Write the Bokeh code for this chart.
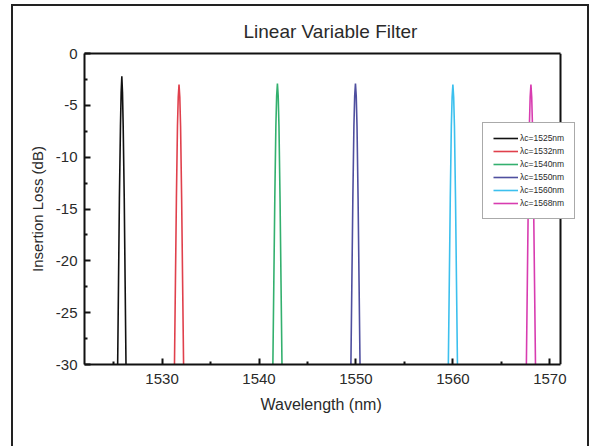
from bokeh.plotting import figure
from bokeh.models import FixedTicker, Legend, LegendItem, Range1d, InlineStyleSheet, LinearAxis, Span, Title
from bokeh.embed import file_html
from bokeh.resources import INLINE

title = "Linear Variable Filter"
x_label = "Wavelength (nm)"
y_label = "Insertion Loss (dB)"

labels = ["λc=1525nm", "λc=1532nm", "λc=1540nm", "λc=1550nm", "λc=1560nm", "λc=1568nm"]
colors = ["#111111", "#e0404c", "#33b06e", "#4f4f9f", "#3cc0ee", "#d83cb0"]

x_min, x_max = 1522, 1571.1
x_ticks = [1530, 1540, 1550, 1560, 1570]
x_minor = [1525, 1535, 1545, 1555, 1565]
y_min, y_max = -30, 0
y_ticks = [-30, -25, -20, -15, -10, -5, 0]
y_tick_labels = ["-30", "-25", "-20", "-15", "-10", "-5", "0"]
y_minor = [-27.5, -22.5, -17.5, -12.5, -7.5, -2.5]

wl_1525 = [1525.39, 1525.42, 1525.51, 1525.60, 1525.71, 1525.78, 1525.85, 1525.92, 1525.99, 1526.10, 1526.19, 1526.28, 1526.31]
il_1525 = [-33, -30, -22, -14, -7, -3.8, -2.2, -3.8, -7, -14, -22, -30, -33]

wl_1532 = [1531.25, 1531.28, 1531.38, 1531.48, 1531.59, 1531.67, 1531.75, 1531.83, 1531.91, 1532.02, 1532.12, 1532.22, 1532.25]
il_1532 = [-33, -30, -22, -14, -7, -4.2, -3.0, -4.2, -7, -14, -22, -30, -33]

wl_1540 = [1541.40, 1541.43, 1541.53, 1541.63, 1541.74, 1541.82, 1541.90, 1541.98, 1542.06, 1542.17, 1542.27, 1542.37, 1542.40]
il_1540 = [-33, -30, -22, -14, -7, -4.1, -2.9, -4.1, -7, -14, -22, -30, -33]

wl_1550 = [1549.45, 1549.48, 1549.58, 1549.68, 1549.79, 1549.87, 1549.95, 1550.03, 1550.11, 1550.22, 1550.32, 1550.42, 1550.45]
il_1550 = [-33, -30, -22, -14, -7, -4.1, -2.9, -4.1, -7, -14, -22, -30, -33]

wl_1560 = [1559.50, 1559.53, 1559.63, 1559.73, 1559.84, 1559.92, 1560.00, 1560.08, 1560.16, 1560.27, 1560.37, 1560.47, 1560.50]
il_1560 = [-33, -30, -22, -14, -7, -4.2, -3.0, -4.2, -7, -14, -22, -30, -33]

wl_1568 = [1567.55, 1567.58, 1567.68, 1567.78, 1567.89, 1567.97, 1568.05, 1568.13, 1568.21, 1568.32, 1568.42, 1568.52, 1568.55]
il_1568 = [-33, -30, -22, -14, -7, -4.2, -3.0, -4.2, -7, -14, -22, -30, -33]

series_x = [wl_1525, wl_1532, wl_1540, wl_1550, wl_1560, wl_1568]
series_y = [il_1525, il_1532, il_1540, il_1550, il_1560, il_1568]

FONT = "Liberation Sans"
TXT = "#2a2a2a"
EDGE = "#111111"

# frame extended to the right so the legend may overhang the plot box (as in the reference)
frame_left, frame_right, box_right = 84, 580, 560
x_extra = x_min + (x_max - x_min) * (frame_right - frame_left) / (box_right - frame_left)

p = figure(width=590, height=446, x_range=Range1d(x_min, x_extra), y_range=Range1d(y_min, y_max),
           output_backend="svg", toolbar_location=None,
           min_border_left=84, min_border_right=10, min_border_top=53, min_border_bottom=82)

p.title.text = title
p.title.align = "left"
p.title.offset = 159
p.title.text_font = FONT
p.title.text_font_size = "19px"
p.title.text_font_style = "normal"
p.title.text_color = TXT
p.title.standoff = 23

p.xgrid.visible = False
p.ygrid.visible = False
p.outline_line_color = None
p.background_fill_color = "white"
p.border_fill_color = "white"

for ax in (p.xaxis[0], p.yaxis[0]):
    ax.axis_line_width = 2
    ax.axis_line_color = EDGE
    ax.major_tick_in = 6
    ax.major_tick_out = 0
    ax.minor_tick_in = 3
    ax.minor_tick_out = 0
    ax.major_tick_line_width = 2
    ax.minor_tick_line_width = 2
    ax.major_tick_line_color = EDGE
    ax.minor_tick_line_color = EDGE
    ax.major_label_text_font = FONT
    ax.major_label_text_font_size = "15px"
    ax.major_label_text_color = TXT
    ax.axis_label_text_font = FONT
    ax.axis_label_text_font_style = "normal"
    ax.axis_label_text_color = TXT

p.xaxis.bounds = (x_min, x_max)
p.xaxis.ticker = FixedTicker(ticks=x_ticks, minor_ticks=x_minor)
p.yaxis.ticker = FixedTicker(ticks=y_ticks, minor_ticks=y_minor)
p.yaxis.major_label_overrides = {t: s for t, s in zip(y_ticks, y_tick_labels)}
p.yaxis.axis_label = y_label
p.yaxis.axis_label_text_font_size = "15px"
p.xaxis.major_label_standoff = 9
p.yaxis.major_label_standoff = 7
p.yaxis.axis_label_standoff = 7

# x-axis title, centred under the plot box (not under the widened frame)
xt = Title(text=x_label, align="left", offset=176, text_font=FONT, text_font_size="16px",
           text_font_style="normal", text_color=TXT, standoff=14)
p.add_layout(xt, "below")

# top edge of the plot box
top = LinearAxis(bounds=(x_min, x_max), ticker=FixedTicker(ticks=[]), axis_line_width=2,
                 axis_line_color=EDGE, major_tick_in=0, major_tick_out=0, minor_tick_in=0,
                 minor_tick_out=0, major_label_text_font_size="0px")
p.add_layout(top, "above")
# right edge of the plot box
p.add_layout(Span(location=x_max, dimension="height", line_color=EDGE, line_width=2))

items = []
for xs, ys, c, lab in zip(series_x, series_y, colors, labels):
    r = p.line(xs, ys, line_color=c, line_width=1.6)
    items.append(LegendItem(label=lab, renderers=[r]))

legend = Legend(items=items, location=(398, 145))
legend.border_line_color = "#555555"
legend.border_line_width = 1
legend.background_fill_color = "white"
legend.background_fill_alpha = 1
legend.label_text_font = FONT
legend.label_text_font_size = "8.5px"
legend.label_text_color = TXT
legend.glyph_width = 25
legend.glyph_height = 10
legend.label_height = 10
legend.label_standoff = 2
legend.spacing = 3
legend.padding = 10
legend.margin = 0
p.add_layout(legend)

p.stylesheets = [InlineStyleSheet(css=":host{position:relative;} :host::after{content:'';position:absolute;left:11px;top:4px;right:1px;bottom:0px;border:2px solid #222;border-bottom:none;pointer-events:none;}")]

open("out.html", "w").write(file_html(p, INLINE))
